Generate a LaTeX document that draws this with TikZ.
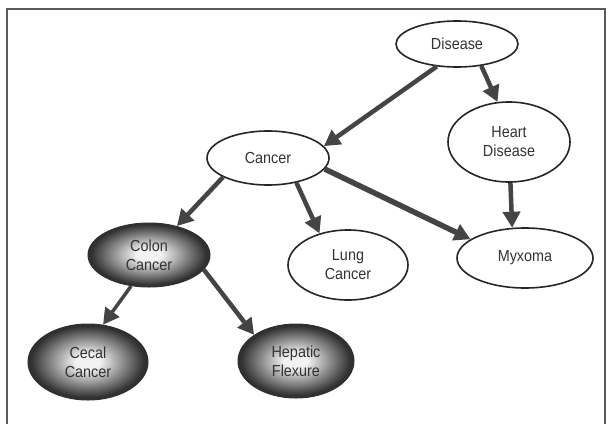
\documentclass[tikz,border=0pt]{standalone}
\usepackage{fontspec}
\setmainfont{Liberation Sans}[FakeStretch=0.9]
\usepackage{xcolor}
\usepackage{tikz}
\usetikzlibrary{shapes.geometric,arrows.meta,positioning,calc}
\definecolor{FrameGray}{HTML}{5A5A5A}
\definecolor{LineDark}{HTML}{262626}
\definecolor{ArrowGray}{HTML}{444444}
\definecolor{TextGray}{HTML}{333333}
\definecolor{GlowLight}{HTML}{F2F2F2}
\definecolor{GlowDark}{HTML}{303030}
\tikzset{
  % Base ellipse
  EL/.style={ellipse,inner sep=0pt,align=center,
             font=\fontsize{16}{19}\selectfont,text=TextGray},
  % Plain concept
  nW/.style={EL,draw=LineDark,line width=1.6pt,fill=white},
  % Shaded concept: rings from dark rim to light core
  nD/.style={EL,draw=GlowDark,line width=1pt,fill=GlowDark,
    path picture={
      \coordinate (pA) at (path picture bounding box.south west);
      \coordinate (pB) at (path picture bounding box.north east);
      \foreach \k in {0,...,39}{
        \pgfmathsetmacro\r{1-\k/40}
        \pgfmathsetmacro\p{max(0,min(100,(0.96-\r)/0.74*100))}
        \fill[GlowLight!\p!GlowDark] let \p1=($(pB)-(pA)$) in
          ($(pA)!0.5!(pB)$) ellipse ({abs(\x1)/2*\r} and {abs(\y1)/2*\r});
      }
    }},
  % Arrow
  arr/.style={-{Triangle[length=16pt,width=17pt]},line width=4.5pt,draw=ArrowGray},
  % Frame
  FR/.style={draw=FrameGray,line width=2pt}
}

\begin{document}
\begin{tikzpicture}[x=1pt,y=-1pt]
  \useasboundingbox (0,0) rectangle (610,423);
  \draw[FR] (7,430) |- (605,9) -- (605,430);

  \node[nW,minimum width=122pt,minimum height=46pt] (dis) at (457,44)  {Disease};
  \node[nW,minimum width=122pt,minimum height=80pt] (hrt) at (509,142) {Heart\\Disease};
  \node[nW,minimum width=122pt,minimum height=54pt] (can) at (268,158) {Cancer};
  \node[nD,minimum width=122pt,minimum height=64pt] (col) at (149,255) {Colon\\Cancer};
  \node[nW,minimum width=120pt,minimum height=70pt] (lng) at (348,265) {Lung\\Cancer};
  \node[nW,minimum width=136pt,minimum height=60pt] (myx) at (525,258) {Myxoma};
  \node[nD,minimum width=120pt,minimum height=76pt] (cec) at (88,362)  {Cecal\\Cancer};
  \node[nD,minimum width=116pt,minimum height=74pt] (hep) at (296,361) {Hepatic\\Flexure};

  \draw[arr] (dis.228) -- (can.12);
  \draw[arr] (dis.318) -- (hrt.106);
  \draw[arr] (can.203) -- (col.46);
  \draw[arr] (can.319) -- (lng.132);
  \draw[arr,line width=5.5pt] (can.349) -- (myx.161);
  \draw[arr] (hrt.272) -- (myx.113);
  \draw[arr,line width=3.5pt] (col.240) -- (cec.68);
  \draw[arr] (col.345) -- (hep.148);
\end{tikzpicture}
\end{document}
